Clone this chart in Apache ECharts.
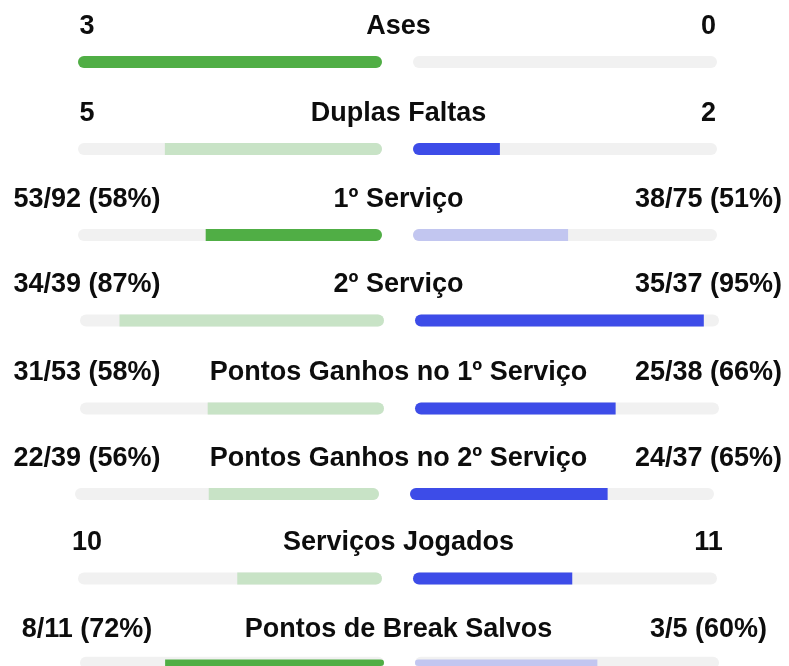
<!DOCTYPE html>
<html>
<head>
<meta charset="utf-8">
<script src="https://cdn.jsdelivr.net/npm/echarts@6/dist/echarts.min.js"></script>
<style>
  html, body { margin: 0; padding: 0; background: #ffffff; }
  #chart { width: 789px; height: 666px; }
</style>
</head>
<body>
<div id="chart"></div>
<script>
// ---- data ----
const categories = ['Ases', 'Duplas Faltas', '1º Serviço', '2º Serviço', 'Pontos Ganhos no 1º Serviço', 'Pontos Ganhos no 2º Serviço', 'Serviços Jogados', 'Pontos de Break Salvos'];
const leftLabels = ['3', '5', '53/92 (58%)', '34/39 (87%)', '31/53 (58%)', '22/39 (56%)', '10', '8/11 (72%)'];
const rightLabels = ['0', '2', '38/75 (51%)', '35/37 (95%)', '25/38 (66%)', '24/37 (65%)', '11', '3/5 (60%)'];
const leftValues = [3, 5, 58, 87, 58, 56, 10, 72];
const rightValues = [0, 2, 51, 95, 66, 65, 11, 60];
const statType = ['count', 'count', 'pct', 'pct', 'pct', 'pct', 'count', 'pct'];
const lowerIsBetter = [false, true, false, false, false, false, false, false];

// ---- layout (not data) ----
const barCenters = [62, 149, 235, 320.5, 408.5, 494, 578.5, 665.5];
const rowShift = [0, 0, 0, 2, 2, -3, 0, 2];
const trackW = 304, barH = 12;
const leftX = 78, rightX = 413;
const COL = { darkL: '#50ae45', lightL: '#c8e3c6', darkR: '#3d4ce8', lightR: '#c2c6f0', track: '#f1f1f1' };
const FONT = 'bold 27px "Liberation Sans", Arial, Helvetica, sans-serif';

const grids = [], xAxes = [], yAxes = [], series = [], graphics = [];

categories.forEach((cat, i) => {
  const l = leftValues[i], r = rightValues[i];
  let ls, rs;
  if (statType[i] === 'count') {
    const s = l + r;
    ls = s ? l / s : 0; rs = s ? r / s : 0;
  } else { ls = l / 100; rs = r / 100; }
  let leftWins = lowerIsBetter[i] ? l < r : l > r;
  const top = barCenters[i] - barH / 2;
  const sh = rowShift[i];
  [0, 1].forEach(side => {
    const gi = grids.length;
    grids.push({ left: (side === 0 ? leftX : rightX) + sh, top: top, width: trackW, height: barH, containLabel: false });
    xAxes.push({ type: 'value', gridIndex: gi, min: 0, max: 1, inverse: side === 0, show: false });
    yAxes.push({ type: 'category', gridIndex: gi, data: [cat], show: false });
    const share = side === 0 ? ls : rs;
    const dark = side === 0 ? leftWins : !leftWins;
    const color = side === 0 ? (dark ? COL.darkL : COL.lightL) : (dark ? COL.darkR : COL.lightR);
    let radius = side === 0 ? [0, 6, 6, 0] : [6, 0, 0, 6];
    if (share >= 0.999) radius = 6;
    series.push({
      type: 'bar', xAxisIndex: gi, yAxisIndex: gi,
      barWidth: barH, silent: true, animation: false,
      showBackground: true,
      backgroundStyle: { color: COL.track, borderRadius: 6 },
      itemStyle: { color: color, borderRadius: radius },
      data: [share]
    });
  });
  const ty = barCenters[i] - 35.5;
  graphics.push({ type: 'text', x: 87, y: ty, style: { text: leftLabels[i], font: FONT, fill: '#0d0d0d', align: 'center', verticalAlign: 'middle' } });
  graphics.push({ type: 'text', x: 398.5, y: ty, style: { text: cat, font: FONT, fill: '#0d0d0d', align: 'center', verticalAlign: 'middle' } });
  graphics.push({ type: 'text', x: 708.5, y: ty, style: { text: rightLabels[i], font: FONT, fill: '#0d0d0d', align: 'center', verticalAlign: 'middle' } });
});

const chart = echarts.init(document.getElementById('chart'), null, { renderer: 'canvas' });
chart.setOption({
  animation: false,
  grid: grids, xAxis: xAxes, yAxis: yAxes, series: series,
  graphic: graphics
});
</script>
</body>
</html>
